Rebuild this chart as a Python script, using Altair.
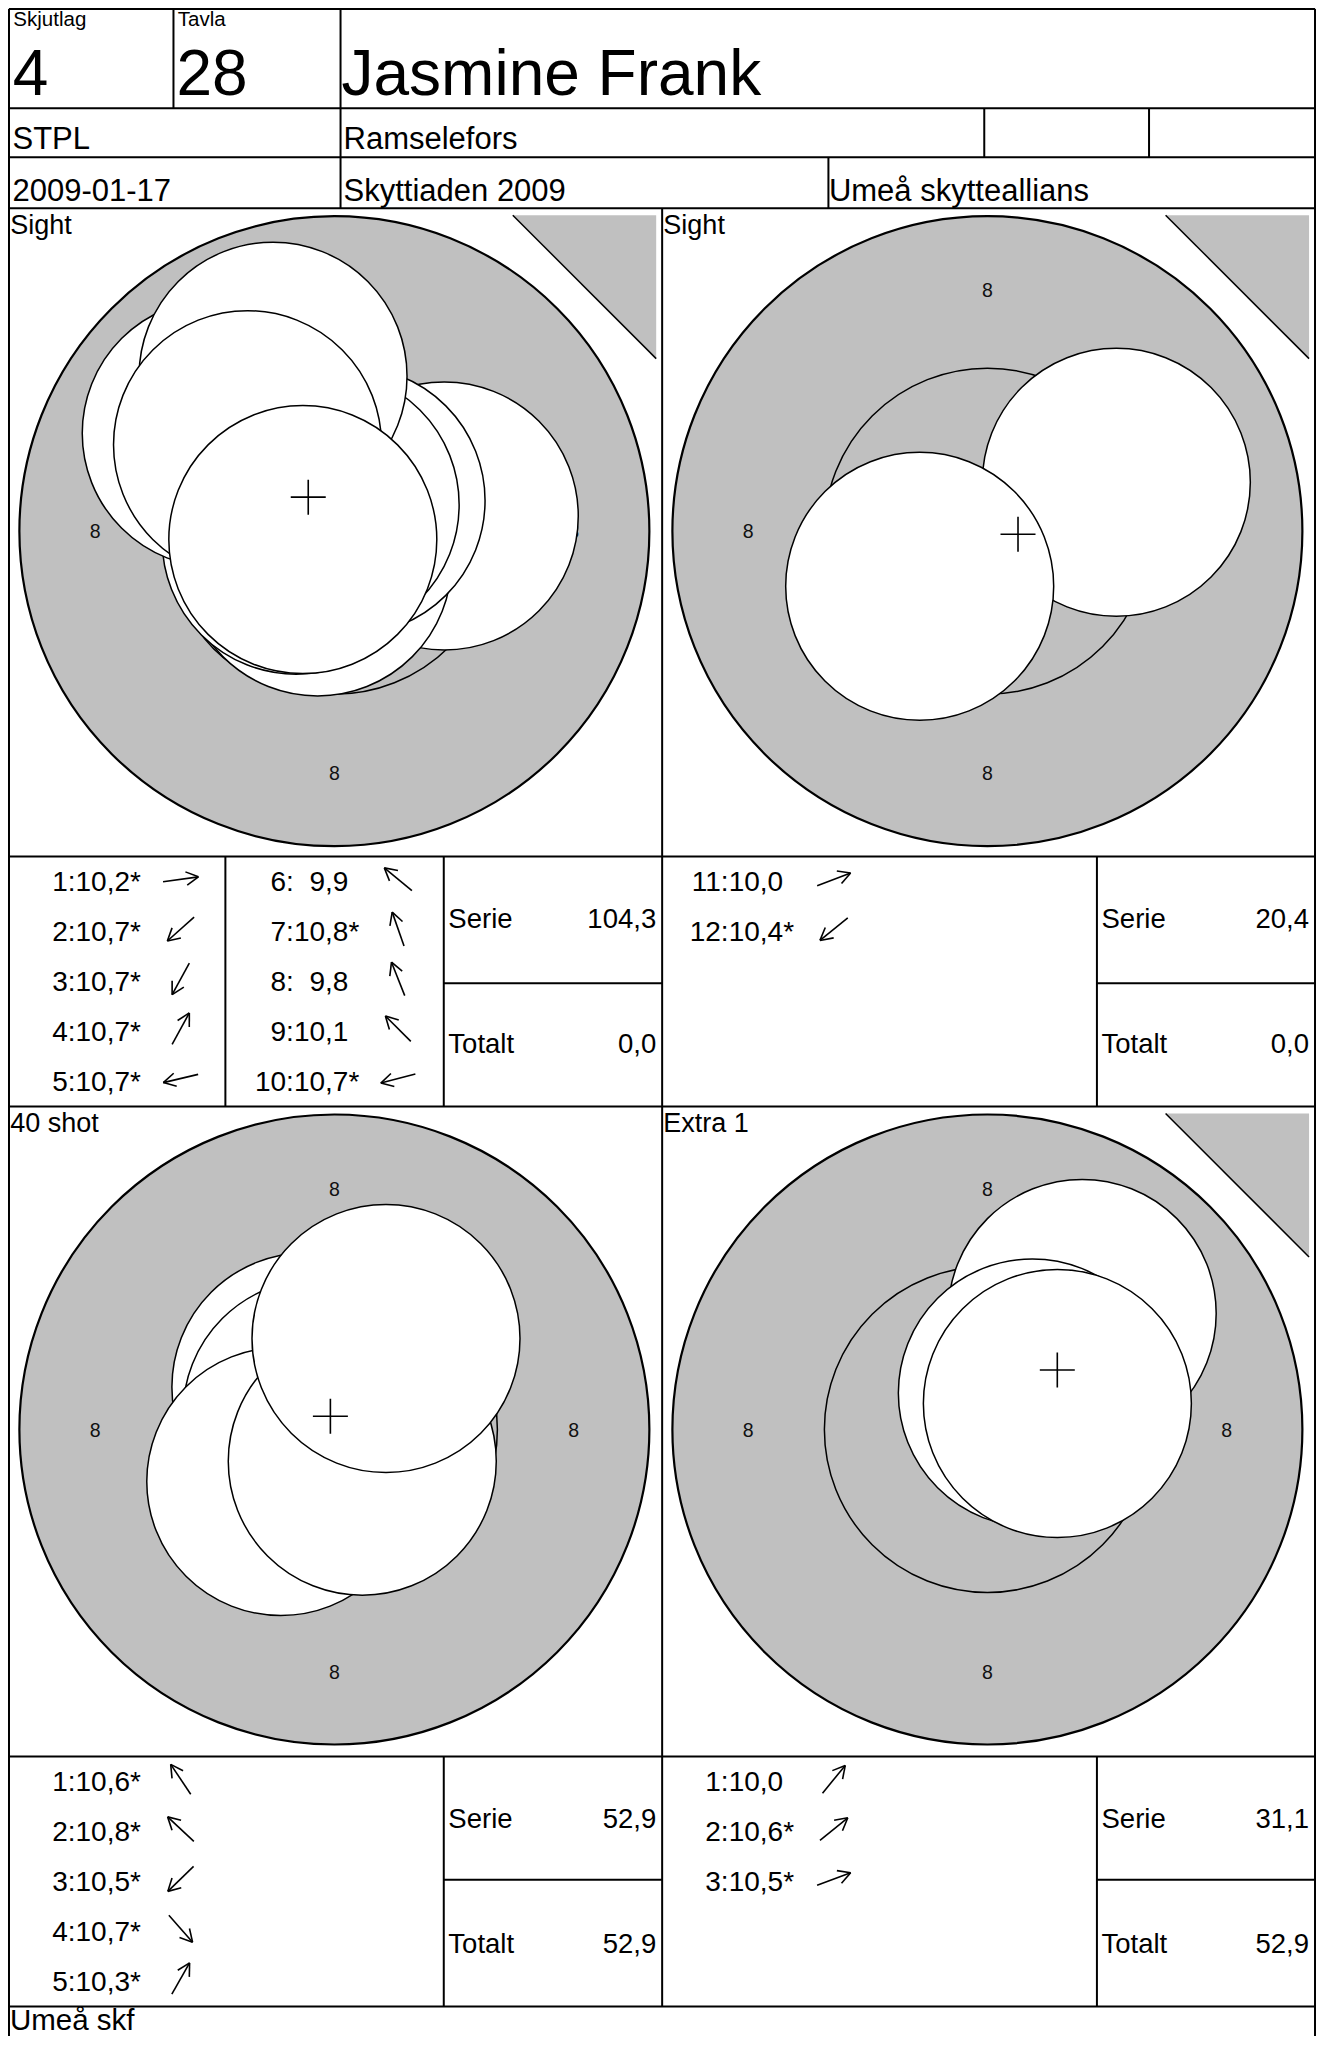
import altair as alt
import pandas as pd

# ---------------- values read from the scorecard ----------------
SKJUTLAG = "4"
TAVLA = "28"
SHOOTER = "Jasmine Frank"
WEAPON_CLASS = "STPL"
CLUB = "Ramselefors"
DATE = "2009-01-17"
COMPETITION = "Skyttiaden 2009"
ORGANISER = "Umeå skytteallians"
FOOTER = "Umeå skf"
FIELD_LABELS = ["Skjutlag", "Tavla"]

panel_keys = ["sight1", "sight2", "match", "extra"]
panel_titles = ["Sight", "Sight", "40 shot", "Extra 1"]
panel_has_sighter_mark = [True, True, False, True]
panel_totalt = [0.0, 0.0, 52.9, 52.9]
ring_label = "8"

# shot number, score, inner-ten flag, offset from target centre (right, up)
sight1_no = [1, 2, 3, 4, 5, 6, 7, 8, 9, 10]
sight1_score = [10.2, 10.7, 10.7, 10.7, 10.7, 9.9, 10.8, 9.8, 10.1, 10.7]
sight1_inner = [True, True, True, True, True, False, True, False, False, True]
sight1_dx = [110.7, -26.0, -16.9, 16.8, -38.5, -119.0, -9.3, -61.8, -87.5, -31.8]
sight1_dy = [15.2, -23.0, -30.7, 30.6, -9.0, 97.9, 26.5, 155.0, 86.5, -8.4]

sight2_no = [11, 12]
sight2_score = [10.0, 10.4]
sight2_inner = [False, True]
sight2_dx = [129.9, -68.2]
sight2_dy = [48.9, -55.1]

match_no = [1, 2, 3, 4, 5]
match_score = [10.6, 10.8, 10.5, 10.7, 10.3]
match_inner = [True, True, True, True, True]
match_dx = [-28.7, -17.5, -54.0, 28.1, 52.0]
match_dy = [42.5, 16.2, -52.0, -31.7, 91.0]

extra_no = [1, 2, 3]
extra_score = [10.0, 10.6, 10.5]
extra_inner = [False, True, True]
extra_dx = [95.5, 45.3, 70.5]
extra_dy = [116.1, 36.5, 26.0]

series = {
    "sight1": (sight1_no, sight1_score, sight1_inner, sight1_dx, sight1_dy),
    "sight2": (sight2_no, sight2_score, sight2_inner, sight2_dx, sight2_dy),
    "match": (match_no, match_score, match_inner, match_dx, match_dy),
    "extra": (extra_no, extra_score, extra_inner, extra_dx, extra_dy),
}

# ---------------- form layout (sheet pixels) ----------------
XL, XA, XB, XS1, XS2, XM = 6, 171.7, 340, 224, 444, 664
XC, XD1, XS3, XD2, XR = 831.5, 988.5, 1102, 1154.5, 1321.7
Y0, Y1, Y2, Y3, Y4, Y5 = 7.6, 106.7, 155.7, 206.7, 855, 981.7
Y6, Y7, Y8, Y9 = 1105, 1755, 1878.3, 2005

W, H = 1308, 2028
X_DOM = [5, 1322.7]
S = W / (X_DOM[1] - X_DOM[0])
Y_DOM = [6.5, 6.5 + H]
YEND = Y_DOM[1]

R_OUT, R_IN, R_SHOT, R_LAB = 315, 163, 134, 241
GRAY = "#c0c0c0"
FONT = "Liberation Sans"
FS_SER = 28.0
FS_MID = 31.0

boxes = {
    "sight1": (XL, XM, Y3, Y4),
    "sight2": (XM, XR, Y3, Y4),
    "match": (XL, XM, Y6, Y7),
    "extra": (XM, XR, Y6, Y7),
}

def fmt(v):
    return f"{v:.1f}".replace(".", ",")

# table lines
h_lines = [(XL, XR, Y0), (XL, XR, Y1), (XL, XR, Y2), (XL, XR, Y3), (XL, XR, Y4),
           (XS2, XM, Y5), (XS3, XR, Y5), (XL, XR, Y6), (XL, XR, Y7),
           (XS2, XM, Y8), (XS3, XR, Y8), (XL, XR, Y9)]
v_lines = [(XL, Y0, YEND), (XR, Y0, YEND), (XA, Y0, Y1), (XB, Y0, Y3),
           (XD1, Y1, Y2), (XD2, Y1, Y2), (XC, Y2, Y3), (XM, Y3, Y9),
           (XS1, Y4, Y6), (XS2, Y4, Y6), (XS3, Y4, Y6), (XS2, Y7, Y9), (XS3, Y7, Y9)]
lines = [dict(x=a, x2=b, y=y, y2=y) for a, b, y in h_lines] + \
        [dict(x=x, x2=x, y=a, y2=b) for x, a, b in v_lines]
lines_df = pd.DataFrame(lines)

# texts (left aligned)
texts = [
    dict(x=XL + 4.4, y=24, text=FIELD_LABELS[0], fs=20.5),
    dict(x=XA + 4.3, y=24, text=FIELD_LABELS[1], fs=20.5),
    dict(x=XL + 3.7, y=93, text=SKJUTLAG, fs=64),
    dict(x=XA + 3.0, y=93, text=TAVLA, fs=64),
    dict(x=XB + 1.0, y=93, text=SHOOTER, fs=64),
    dict(x=XL + 3.5, y=147.5, text=WEAPON_CLASS, fs=FS_MID),
    dict(x=XB + 3.0, y=147.5, text=CLUB, fs=FS_MID),
    dict(x=XL + 3.5, y=199, text=DATE, fs=FS_MID),
    dict(x=XB + 3.0, y=199, text=COMPETITION, fs=FS_MID),
    dict(x=XC + 0.5, y=199, text=ORGANISER, fs=FS_MID),
    dict(x=XL + 1.0, y=2028, text=FOOTER, fs=29.5),
]
rtexts = []
targets, labels8, shots, tri, tri_lines = [], [], [], [], []
for key, title, sighter, totalt in zip(panel_keys, panel_titles, panel_has_sighter_mark, panel_totalt):
    x0, x1, y0, y1 = boxes[key]
    cx, cy = (x0 + x1) / 2 - 1.2, y0 + 323
    targets.append(dict(panel=key, cx=cx, cy=cy))
    for lx, ly in [(-R_LAB, 1), (R_LAB, 1), (0, -R_LAB + 1), (0, R_LAB + 2)]:
        labels8.append(dict(x=cx + lx, y=cy + ly, text=ring_label))
    nos, scores, inner, dxs, dys = series[key]
    texts.append(dict(x=x0 + 1.2, y=y0 + 25.3, text=title, fs=27))
    texts.append(dict(x=x0 + 442.6, y=y1 + 71.7, text="Serie", fs=27.5))
    texts.append(dict(x=x0 + 442.6, y=y1 + 196, text="Totalt", fs=27.5))
    rtexts.append(dict(x=x1 - 6, y=y1 + 71.7, text=fmt(round(sum(scores), 1)), fs=27.5))
    rtexts.append(dict(x=x1 - 6, y=y1 + 196, text=fmt(totalt), fs=27.5))
    for i, (n, sc, inn, dx, dy) in enumerate(zip(nos, scores, inner, dxs, dys)):
        col, row = i // 5, i % 5
        yb = y1 + 34.8 + 49.8 * row
        xcol = x0 + 67 + 220 * col
        val = fmt(sc) + ("*" if inn else "")
        # a one-digit score is set one digit-width further right
        xval = xcol + (0.556 * FS_SER / S if sc < 10 else 0)
        shots.append(dict(panel=key, order=i, cx=cx, cy=cy, dx=dx, dy=dy,
                          num=f"{n}:", val=val, xcol=xcol, xval=xval,
                          xarr=x0 + 173 + 219 * col, yb=yb, ay=yb - 12))
    if sighter:
        side = 144.5
        xa, xb, ya, yb2 = x1 - 6 - side, x1 - 6, y0 + 7, y0 + 7 + side * S
        tri.append(dict(panel=key, x=(xa + xb) / 2, y=(ya + yb2) / 2))
        tri_lines.append(dict(x=xa, y=ya, x2=xb, y2=yb2))

texts_df = pd.DataFrame(texts)
rtexts_df = pd.DataFrame(rtexts)
targets_df = pd.DataFrame(targets)
labels_df = pd.DataFrame(labels8)
shots_df = pd.DataFrame(shots)
tri_df = pd.DataFrame(tri)
tri_lines_df = pd.DataFrame(tri_lines)

xs = alt.Scale(domain=X_DOM, nice=False, zero=False)
ys = alt.Scale(domain=Y_DOM, nice=False, zero=False, reverse=True)

def X(f):
    return alt.X(f, type="quantitative", scale=xs, axis=None)

def Y(f):
    return alt.Y(f, type="quantitative", scale=ys, axis=None)

layers = []

# sighter triangles (grey corner with a black diagonal)
layers.append(alt.Chart(tri_df).mark_point(
    shape="M-1,-1L1,-1L1,1Z", size=(144.5 * S) ** 2, filled=True, fill=GRAY,
    strokeWidth=0, opacity=1
).encode(x=X("x"), y=Y("y")))
layers.append(alt.Chart(tri_lines_df).mark_rule(color="black", strokeWidth=1.5).encode(
    x=X("x"), y=Y("y"), x2=alt.X2("x2"), y2=alt.Y2("y2")))

# target rings
layers.append(alt.Chart(targets_df).mark_circle(
    size=(2 * R_OUT) ** 2, fill=GRAY, stroke="black", strokeWidth=2.2, opacity=1
).encode(x=X("cx"), y=Y("cy")))
layers.append(alt.Chart(targets_df).mark_circle(
    size=(2 * R_IN) ** 2, fill=GRAY, stroke="black", strokeWidth=1.5, opacity=1
).encode(x=X("cx"), y=Y("cy")))
layers.append(alt.Chart(labels_df).mark_text(
    font=FONT, fontSize=19.5, color="#111", align="center", baseline="middle"
).encode(x=X("x"), y=Y("y"), text="text:N"))

# shots
shot_base = alt.Chart(shots_df).transform_calculate(
    sx="datum.cx + datum.dx", sy="datum.cy - datum.dy")
layers.append(shot_base.mark_circle(
    size=(2 * R_SHOT) ** 2, fill="white", stroke="black", strokeWidth=1.5, opacity=1
).encode(x=X("sx"), y=Y("sy"), order=alt.Order("order:Q")))

# mean point of impact
layers.append(shot_base.transform_aggregate(
    mx="mean(sx)", my="mean(sy)", groupby=["panel"]
).mark_point(shape="M-1,0L1,0M0,-1L0,1", size=35 ** 2, filled=False,
             color="black", strokeWidth=1.6, opacity=1).encode(x=X("mx"), y=Y("my")))

# table lines
layers.append(alt.Chart(lines_df).mark_rule(color="black", strokeWidth=2).encode(
    x=X("x"), y=Y("y"), x2=alt.X2("x2"), y2=alt.Y2("y2")))

# texts
layers.append(alt.Chart(texts_df).mark_text(
    font=FONT, color="black", align="left", baseline="alphabetic"
).encode(x=X("x"), y=Y("y"), text="text:N", size=alt.Size("fs:Q", scale=None)))
layers.append(alt.Chart(rtexts_df).mark_text(
    font=FONT, color="black", align="right", baseline="alphabetic"
).encode(x=X("x"), y=Y("y"), text="text:N", size=alt.Size("fs:Q", scale=None)))

# series list
layers.append(alt.Chart(shots_df).mark_text(
    font=FONT, fontSize=FS_SER, color="black", align="right", baseline="alphabetic"
).encode(x=X("xcol"), y=Y("yb"), text="num:N"))
layers.append(alt.Chart(shots_df).mark_text(
    font=FONT, fontSize=FS_SER, color="black", align="left", baseline="alphabetic"
).encode(x=X("xval"), y=Y("yb"), text="val:N"))

# direction arrows (direction of each shot from the target centre)
L, HL, PHI = 36, 14, 0.5
arrow = alt.Chart(shots_df).transform_calculate(
    th="atan2(datum.dy, datum.dx)"
).transform_calculate(
    tx=f"datum.xarr - {L / 2} * cos(datum.th)",
    ty=f"datum.ay + {L / 2} * sin(datum.th)",
    hx=f"datum.xarr + {L / 2} * cos(datum.th)",
    hy=f"datum.ay - {L / 2} * sin(datum.th)",
).transform_calculate(
    b1x=f"datum.hx - {HL} * cos(datum.th + {PHI})",
    b1y=f"datum.hy + {HL} * sin(datum.th + {PHI})",
    b2x=f"datum.hx - {HL} * cos(datum.th - {PHI})",
    b2y=f"datum.hy + {HL} * sin(datum.th - {PHI})",
)
for a, b in [("tx", "ty"), ("b1x", "b1y"), ("b2x", "b2y")]:
    layers.append(arrow.mark_rule(color="black", strokeWidth=1.6).encode(
        x=X(a), y=Y(b), x2=alt.X2("hx"), y2=alt.Y2("hy")))

chart = alt.layer(*layers).properties(
    width=W, height=H, padding=0, autosize=alt.AutoSizeParams(type="none")
).configure_view(stroke=None).configure(font=FONT)

chart.save("out.html", embed_options={"renderer": "svg", "actions": False})
